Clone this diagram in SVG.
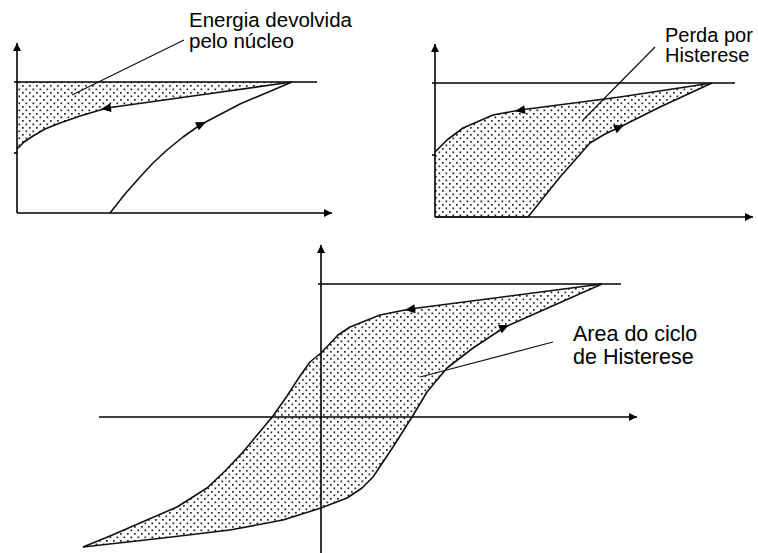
<svg xmlns="http://www.w3.org/2000/svg" width="758" height="553" viewBox="0 0 758 553">
  <style>
    .ax { stroke: #000; stroke-width: 1.6; fill: none; }
    .cv { stroke: #111; stroke-width: 1.6; fill: none; stroke-linejoin: round; }
    .ld { stroke: #111; stroke-width: 1.2; fill: none; }
    .fl { fill: url(#dots); stroke: none; }
    .lb { font-family: "Liberation Sans", Arial, sans-serif; font-size: 20.5px; fill: #000; }
  </style>
  <defs>
    <pattern id="dots" width="7" height="7" patternUnits="userSpaceOnUse">
      <rect x="1" y="1" width="1.7" height="1.7" fill="#222"/>
      <rect x="4.5" y="4.5" width="1.7" height="1.7" fill="#222"/>
    </pattern>
    <marker id="axarrow" markerWidth="10" markerHeight="10" refX="8" refY="4" orient="auto" markerUnits="userSpaceOnUse">
      <path d="M0,0 L8,4 L0,8 Z" fill="#000"/>
    </marker>
    <path id="tri" d="M0,0 L-10,-4.5 L-10,4.5 Z" fill="#000"/>
  </defs>

  <rect width="758" height="553" fill="#fff"/>

  <!-- Top-left panel -->
  <g id="panel-top-left">
    <path class="fl" d="M17,82 L292,82 L200,95 L107,108 L80,116 L60,123 L45,129 L33,136 L24,142 L17,149 Z"/>
    <line class="ax" x1="17" y1="213" x2="17" y2="43" marker-end="url(#axarrow)"/>
    <line class="ax" x1="17" y1="213" x2="332" y2="213" marker-end="url(#axarrow)"/>
    <line class="ax" x1="14" y1="82" x2="317" y2="82"/>
    <line class="ax" x1="14" y1="153" x2="17" y2="153"/>
    <path class="cv" d="M292,82 L200,95 L107,108 L80,116 L60,123 L45,129 L33,136 L24,142 L17,149"/>
    <path class="cv" d="M110,213 L125,194 L140,177 L153,163 L167,150 L183,137 L200,125 L240,104 L292,82"/>
    <use href="#tri" transform="translate(101,109) rotate(172)"/>
    <use href="#tri" transform="translate(206,122) rotate(-25)"/>
  </g>

  <!-- Top-right panel -->
  <g id="panel-top-right">
    <path class="fl" d="M435,152 L435,217 L528,217 L560,177 L590,143 L605,134 L620,127 L660,107 L712,83 L620,97 L520,110 L493,115 L463,128 L447,140 Z"/>
    <line class="ax" x1="435" y1="217" x2="435" y2="44" marker-end="url(#axarrow)"/>
    <line class="ax" x1="435" y1="217" x2="753" y2="217" marker-end="url(#axarrow)"/>
    <line class="ax" x1="432" y1="83" x2="735" y2="83"/>
    <line class="ax" x1="432" y1="155" x2="435" y2="155"/>
    <path class="cv" d="M712,83 L620,97 L520,110 L493,115 L463,128 L447,140 L435,152"/>
    <path class="cv" d="M528,217 L560,177 L590,143 L605,134 L620,127 L660,107 L712,83"/>
    <path class="cv" d="M435,217 L528,217"/>
    <use href="#tri" transform="translate(515,111) rotate(172)"/>
    <use href="#tri" transform="translate(624,125) rotate(-25)"/>
  </g>

  <!-- Bottom panel -->
  <g id="panel-bottom">
    <path class="fl" d="M602,284 L410,309 L380,315 L350,327 L338,335 L321,353 L310,362 L300,376 L287,396 L273,416 L258,434 L243,452 L225,471 L207,488 L177,507 L140,523 L110,536 L83,547 L163,538 L230,530 L283,520 L321,508 L347,498 L362,488 L373,477 L393,447 L412,417 L427,392 L447,368 L473,348 L505,327 Z"/>
    <line class="ax" x1="321" y1="553" x2="321" y2="245" marker-end="url(#axarrow)"/>
    <line class="ax" x1="99" y1="417" x2="637" y2="417" marker-end="url(#axarrow)"/>
    <line class="ax" x1="318" y1="284" x2="621" y2="284"/>
    <path class="cv" d="M602,284 L410,309 L380,315 L350,327 L338,335 L321,353 L310,362 L300,376 L287,396 L273,416 L258,434 L243,452 L225,471 L207,488 L177,507 L140,523 L110,536 L83,547"/>
    <path class="cv" d="M83,547 L163,538 L230,530 L283,520 L321,508 L347,498 L362,488 L373,477 L393,447 L412,417 L427,392 L447,368 L473,348 L505,327 L602,284"/>
    <use href="#tri" transform="translate(405,310) rotate(172.6)"/>
    <use href="#tri" transform="translate(509,325) rotate(-24)"/>
  </g>

  <!-- Leader lines -->
  <g id="connectors">
    <line class="ld" x1="72" y1="95" x2="184" y2="40"/>
    <line class="ld" x1="583" y1="120" x2="655" y2="47"/>
    <line class="ld" x1="420" y1="377" x2="553" y2="342"/>
  </g>

  <!-- Labels -->
  <g id="label-energia">
    <text class="lb" x="189" y="27">Energia devolvida</text>
    <text class="lb" x="189" y="48">pelo núcleo</text>
  </g>
  <g id="label-perda">
    <text class="lb" x="665" y="42" style="font-size:20px">Perda por</text>
    <text class="lb" x="665" y="62" style="font-size:20px">Histerese</text>
  </g>
  <g id="label-area">
    <text class="lb" x="573" y="341" style="font-size:21.5px">Area do ciclo</text>
    <text class="lb" x="573" y="364" style="font-size:21.5px">de Histerese</text>
  </g>
</svg>
